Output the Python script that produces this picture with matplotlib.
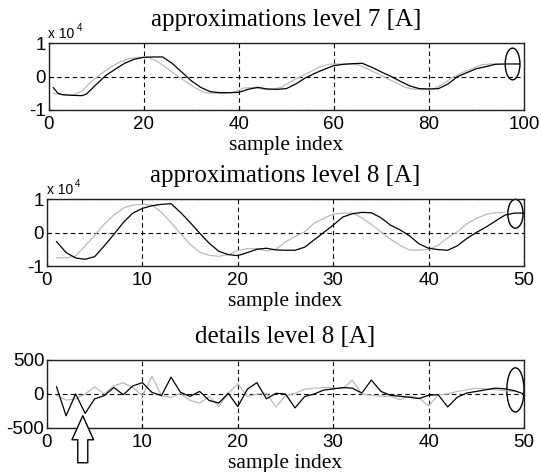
import matplotlib
matplotlib.use("Agg")
import matplotlib.pyplot as plt
from matplotlib.patches import Ellipse
from matplotlib.ticker import FuncFormatter
from matplotlib.transforms import offset_copy

plt.rcParams['axes.unicode_minus'] = False

# ---------------- data ----------------
# approximations level 7 (values in A)
a7_black_x = [1, 2, 3, 5, 7, 8, 10, 12, 14, 16, 18, 20, 22, 24, 26, 28, 30, 32, 34, 36, 38,
              40, 42, 44, 46, 48, 50, 52, 54, 56, 58, 60, 62, 64, 66, 68, 70, 72, 74, 76, 78,
              80, 82, 84, 86, 88, 90, 92, 94, 96, 98, 99]
a7_black_y = [-3300, -5000, -5400, -5600, -5700, -5200, -2400, 300, 2200, 4000, 5200, 5800, 5900,
              5900, 4000, 1400, -1200, -3200, -4500, -4800, -4800, -4700, -3800, -3200, -3700,
              -3800, -3600, -2200, -400, 1000, 2200, 3300, 3700, 3900, 4000, 2800, 1400, 100,
              -1400, -2800, -3600, -3700, -3600, -2200, 0, 1200, 2400, 3000, 3700, 3800, 3800, 3800]
a7_gray_x = [1, 3, 5, 7, 9, 11, 13, 15, 17, 19, 21, 23, 25, 27, 29, 31, 33, 35, 37, 39, 41, 43,
             45, 47, 49, 51, 53, 55, 57, 59, 61, 63, 65, 67, 69, 71, 73, 75, 77, 79, 81, 83, 85,
             87, 89, 91, 93, 95]
a7_gray_y = [-5000, -5500, -5600, -4400, -1500, 800, 2800, 4400, 5400, 5800, 5800, 4500, 2400,
             300, -1600, -3500, -4800, -5000, -5000, -4700, -3400, -3300, -3800, -3800, -3200,
             -1400, 0, 1400, 2900, 3700, 3800, 3800, 3600, 2400, 1000, -400, -1800, -3200, -3800,
             -3800, -3700, -2200, -200, 1200, 2400, 3500, 3800, 3800]

# approximations level 8
a8_black_x = list(range(1, 51))
a8_black_y = [-2700, -6000, -7600, -8000, -7200, -4000, -600, 3000, 5800, 7200, 8000, 8400, 8600,
              6000, 3000, -200, -3200, -5600, -6600, -6900, -6000, -5000, -4700, -5200, -5300,
              -5300, -4400, -2200, 0, 2200, 4600, 5600, 6000, 5900, 4400, 2200, 800, -1000,
              -3400, -4700, -5100, -5300, -4000, -1800, 0, 1600, 3400, 5200, 5800, 5800]
a8_gray_x = list(range(1, 49))
a8_gray_y = [-7500, -7600, -7000, -4000, -800, 2500, 5200, 7300, 8200, 8400, 8200, 6000, 3000,
             -400, -3500, -5900, -6800, -7100, -6600, -5400, -4800, -4800, -5500, -5000, -2800,
             -1200, 200, 2800, 4200, 5500, 5800, 5800, 4400, 2400, 200, -2000, -3800, -5200,
             -5300, -5000, -3800, -1600, 200, 2600, 4200, 5400, 5900, 6000]

# details level 8
d8_black_x = list(range(1, 51))
d8_black_y = [105, -320, 0, -285, -71, -24, 95, -10, 119, 167, 24, -24, 248, 24, -35, 38, -95,
              -133, 10, -185, 71, 167, -71, 10, 0, -205, -38, 0, 57, 75, 95, 86, 14, 205, 38,
              -19, -33, -48, -67, -19, -10, -190, -48, 14, 38, 62, 86, 76, 48, 0]
d8_gray_x = list(range(1, 50))
d8_gray_y = [-20, -90, -70, 0, 105, 0, 120, 165, 95, -25, 260, -25, -50, 10, -95, -133, -38,
             -181, 10, 152, -38, 0, 10, -190, -24, 10, 71, 86, 95, 90, 76, 205, 0, -19, -33,
             -33, -81, -33, -57, -176, -10, 0, 38, 62, 86, 76, 62, 48, 40]

titles = ["approximations level 7 [A]", "approximations level 8 [A]", "details level 8 [A]"]
xlabel = "sample index"
x_ticks_7 = [0, 20, 40, 60, 80, 100]
x_ticks_8 = [0, 10, 20, 30, 40, 50]

# ---------------- figure ----------------
W, H = 541, 472
fig = plt.figure(figsize=(W / 100, H / 100), dpi=100)

def box(l, r, t, b):
    return [l / W, 1 - b / H, (r - l) / W, (b - t) / H]

ax1 = fig.add_axes(box(48.5, 524, 43.3, 110))
ax2 = fig.add_axes(box(47, 524, 199, 266))
ax3 = fig.add_axes(box(47, 524, 360, 428))

GRAY = '#bdb8c0'
sans = 'Liberation Sans'
serif = 'Liberation Serif'

def style(ax, xt, xlim, yt, ylim, fmt):
    ax.set_xlim(*xlim)
    ax.set_ylim(*ylim)
    ax.set_xticks(xt)
    ax.set_yticks(yt)
    ax.yaxis.set_major_formatter(FuncFormatter(fmt))
    ax.tick_params(direction='in', length=3, width=0.8, labelsize=13.5, pad=4,
                   top=False, right=False)
    for lab in ax.get_xticklabels() + ax.get_yticklabels():
        lab.set_fontfamily(sans)
    ax.tick_params(axis='y', pad=2)
    ax.grid(True, linestyle=(0, (4, 3)), color='black', linewidth=0.8)
    for s in ax.spines.values():
        s.set_linewidth(1.0)
        s.set_color('#222222')

fmt4 = lambda v, p: '%d' % round(v / 1e4)
fmtd = lambda v, p: '%d' % round(v)

ax1.plot(a7_gray_x, a7_gray_y, color=GRAY, lw=0.9)
ax1.plot(a7_black_x, a7_black_y, color='black', lw=0.9)
style(ax1, x_ticks_7, (0, 100), [-10000, 0, 10000], (-10000, 10000), fmt4)

ax2.plot(a8_gray_x, a8_gray_y, color=GRAY, lw=0.9)
ax2.plot(a8_black_x, a8_black_y, color='black', lw=0.9)
style(ax2, x_ticks_8, (0, 50), [-10000, 0, 10000], (-10000, 10000), fmt4)

ax3.plot(d8_gray_x, d8_gray_y, color=GRAY, lw=0.9)
ax3.plot(d8_black_x, d8_black_y, color='black', lw=0.9)
style(ax3, x_ticks_8, (0, 50), [-500, 0, 500], (-500, 500), fmtd)

# ellipses marking the signal end
ax1.add_patch(Ellipse((97.6, 3800), 3.1, 9500, fill=False, ec='black', lw=1.0, clip_on=False))
ax2.add_patch(Ellipse((49.1, 5600), 1.6, 8600, fill=False, ec='black', lw=1.0, clip_on=False))
ax3.add_patch(Ellipse((49.1, 60), 1.8, 650, fill=False, ec='black', lw=1.0, clip_on=False))

# titles and x labels
for ax, t in zip([ax1, ax2, ax3], titles):
    tr = offset_copy(ax.transAxes, fig=fig, x=0, y=17, units='dots')
    ax.text(0.5, 1.0, t, transform=tr, ha='center', va='baseline',
            fontsize=18, family=serif)
    trl = offset_copy(ax.transAxes, fig=fig, x=0, y=-40, units='dots')
    ax.text(0.5, 0.0, xlabel, transform=trl, ha='center', va='baseline',
            fontsize=15.5, family=serif)

# exponent labels
for ax in [ax1, ax2]:
    tr = offset_copy(ax.transAxes, fig=fig, x=0, y=5, units='dots')
    ax.text(0.0, 1.0, 'x 10', transform=tr, ha='left', va='baseline', fontsize=10, family=sans)
    tr2 = offset_copy(ax.transAxes, fig=fig, x=28, y=12, units='dots')
    ax.text(0.0, 1.0, '4', transform=tr2, ha='left', va='baseline', fontsize=7, family=sans)

# arrow pointing at the disturbance
ax3.annotate('', xy=(3.75, -320), xycoords='data', xytext=(0, -47), textcoords='offset pixels',
             annotation_clip=False,
             arrowprops=dict(arrowstyle='simple,head_length=1.73,head_width=1.56,tail_width=0.72',
                             mutation_scale=10, fc='white', ec='black', lw=1.0,
                             shrinkA=0, shrinkB=0))

fig.savefig('out.png', dpi=100)
